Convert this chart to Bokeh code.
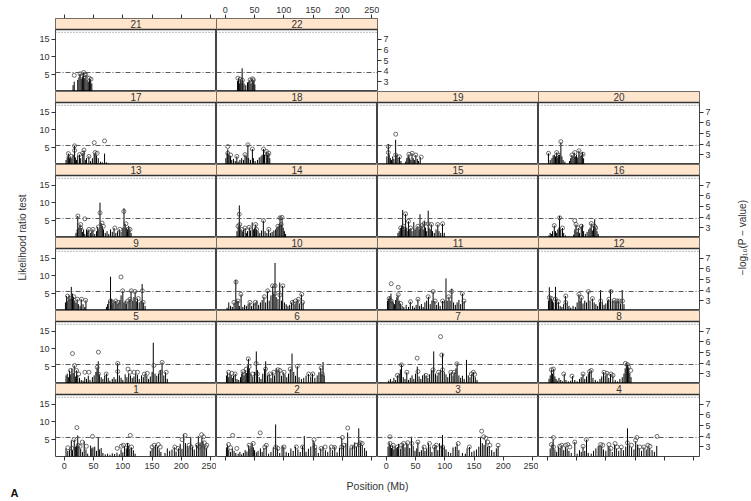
from math import pi
from bokeh.plotting import figure
from bokeh.models import Range1d, LinearAxis, FixedTicker, Span, BoxAnnotation, Label
from bokeh.layouts import row, column
from bokeh.embed import file_html
from bokeh.resources import INLINE

# ---------------- data: (position Mb, likelihood ratio test) ----------------
spikes_1 = [(3,2.5),(6,1.8),(9,2.2),(12,4.8),(14,2.0),(17,5.0),(19,3.0),(21,3.3),(23,6.2),(25,3.0),(28,2.4),(31,1.5),(34,4.5),(37,2.2),(40,1.0),(45,3.3),(47,2.5),(49,2.8),(52,3.0),(55,1.8),(58,5.5),(60,2.2),(63,2.6),(66,1.2),(70,0.8),(74,1.0),(78,0.7),(82,1.1),(86,0.9),(90,1.3),(94,0.8),(97,2.2),(100,1.4),(103,3.2),(106,2.5),(108,4.0),(110,3.3),(112,2.4),(115,2.8),(118,2.0),(121,1.0),(147,1.8),(150,2.5),(153,2.8),(156,3.5),(159,2.9),(162,2.2),(165,1.5),(172,1.2),(176,2.5),(180,1.8),(184,2.2),(188,2.8),(191,1.6),(195,2.5),(198,3.8),(201,2.4),(204,6.5),(207,4.0),(210,3.2),(213,2.6),(216,5.8),(219,3.0),(222,2.2),(226,3.5),(229,6.0),(232,4.2),(235,5.6),(237,4.5),(240,3.2),(243,2.5)]
circles_1 = [(6,2.7),(13,2.5),(16.6,5.0),(21.5,8.4),(23.6,3.4),(27,3.1),(30.7,4.3),(37.7,3.1),(48.2,5.9),(90.4,2.5),(97.4,3.1),(100.9,3.4),(108,3.4),(112.8,6.2),(115,2.9),(150,2.9),(153.6,3.4),(160.6,3.6),(164,2.9),(188.7,2.9),(194.3,2.5),(201.3,5.0),(206.3,6.2),(213.3,3.4),(216.8,2.9),(227.3,3.4),(230.8,2.9),(234.4,6.4),(237.9,5.8),(239.3,4.1),(241.4,2.9),(243.5,3.4)]

spikes_2 = [(2,2.8),(4,3.6),(6,2.2),(9,1.5),(12,2.5),(15,1.8),(18,1.2),(22,1.0),(25,1.5),(28,0.8),(31,1.2),(34,2.0),(37,1.6),(40,3.4),(42,2.5),(44,3.2),(46,4.0),(48,2.8),(50,2.0),(53,1.4),(56,1.8),(60,2.5),(63,1.5),(66,2.6),(70,3.2),(74,1.0),(78,1.5),(82,2.8),(86,9.3),(89,2.5),(93,1.2),(97,3.3),(100,3.0),(104,1.5),(108,1.2),(112,2.5),(116,1.8),(120,3.0),(124,2.2),(128,1.5),(132,3.2),(135,6.0),(138,1.5),(142,2.4),(146,3.0),(150,4.8),(152,4.2),(155,2.6),(159,1.2),(163,2.5),(167,3.0),(171,2.0),(175,1.5),(179,2.8),(183,2.0),(187,3.0),(191,1.4),(195,2.6),(199,5.5),(202,3.3),(206,4.0),(209,7.0),(213,2.5),(217,3.2),(221,4.2),(224,3.0),(228,8.2),(231,4.0),(234,3.5),(238,2.6),(241,1.8)]
circles_2 = [(5.6,3.6),(9.1,2.7),(12.6,6.2),(19.7,2.5),(40.7,3.4),(47.7,3.9),(59.7,6.9),(67.4,2.9),(70.2,3.4),(86.3,2.9),(89.9,2.5),(100.4,2.9),(121.4,2.9),(132,2.9),(151.6,5.0),(153,2.9),(163.6,2.5),(170.6,2.9),(181.1,2.9),(186.7,2.8),(198.7,2.9),(200.1,5.6),(202.2,3.4),(209.2,8.3),(216.2,2.9),(223.2,3.4),(228.9,3.6),(230.3,4.1),(233.8,3.9)]

spikes_3 = [(3,3.0),(5,4.2),(7,3.5),(9,2.6),(11,3.4),(13,2.2),(15,3.0),(17,2.5),(19,2.9),(21,3.8),(24,2.4),(27,3.4),(29,3.9),(32,2.8),(35,4.1),(37,3.5),(40,2.6),(43,5.8),(46,3.2),(49,1.8),(52,2.5),(54,4.3),(57,1.5),(60,2.0),(63,3.0),(66,1.8),(69,2.5),(72,4.0),(75,3.0),(78,1.5),(82,2.9),(85,3.4),(88,2.0),(91,4.0),(94,3.2),(96,6.3),(99,3.0),(102,2.2),(106,1.5),(110,1.2),(114,2.8),(118,3.0),(121,3.9),(124,2.0),(130,1.2),(135,1.0),(138,2.5),(142,2.9),(146,1.5),(150,1.8),(154,2.2),(158,3.0),(161,5.8),(164,4.0),(167,3.5),(170,4.8),(173,3.0),(176,3.2),(180,2.0),(184,1.5),(188,2.5),(191,3.2)]
circles_3 = [(6.3,5.8),(6.3,3.9),(11.9,3.4),(19,2.9),(26,3.4),(29.5,3.9),(36.5,4.1),(43.5,3.9),(54,4.3),(64.6,2.9),(73.7,3.9),(82.1,2.9),(85.6,3.4),(96.2,2.9),(122.9,3.9),(141.8,2.9),(162.9,7.4),(166.4,5.8),(169.9,5.4),(173.4,4.3),(176.9,3.4),(191,3.4)]

spikes_4 = [(5,2.5),(8,3.6),(10,5.0),(13,2.2),(16,1.5),(19,3.0),(22,2.6),(25,3.4),(28,2.0),(31,3.0),(34,2.5),(37,1.8),(41,1.2),(47,4.3),(51,1.0),(55,2.0),(58,1.5),(61,3.0),(64,1.8),(67,5.0),(70,1.2),(75,1.0),(79,1.8),(83,2.5),(87,3.2),(90,3.4),(93,3.0),(96,2.2),(100,1.8),(104,3.2),(107,2.5),(111,1.5),(115,3.6),(118,2.4),(122,1.8),(126,2.6),(130,2.0),(134,3.0),(137,8.2),(140,3.4),(144,2.8),(148,2.2),(151,4.5),(154,3.6),(157,2.5),(161,1.8),(165,2.8),(169,2.2),(172,3.0),(175,2.6),(179,2.0),(183,1.5),(187,3.2)]
circles_4 = [(7,3.6),(10.5,5.6),(10.5,2.9),(21.1,3.1),(24.6,3.4),(31.6,3.4),(35.1,3.6),(38.6,2.9),(47,4.3),(61.1,3.1),(66.7,5.0),(91.3,3.6),(94.8,3.4),(105.3,3.6),(108.8,2.5),(115.8,3.9),(119.3,2.9),(126.4,2.9),(136.9,4.1),(143.9,3.4),(150.9,4.8),(153,5.6),(158,2.9),(165,2.9),(172,3.4),(175.5,3.1),(187.4,5.9)]

spikes_5 = [(3,2.5),(5,3.0),(7,2.0),(9,3.9),(11,2.8),(13,4.5),(15,3.2),(17,5.3),(19,2.2),(21,3.9),(23,2.5),(26,1.8),(29,1.2),(32,1.0),(35,2.0),(38,1.5),(41,2.4),(44,1.2),(48,2.0),(51,2.5),(54,3.5),(56,4.8),(58,6.5),(60,2.8),(63,2.0),(66,1.5),(69,2.4),(72,3.0),(75,1.8),(78,1.0),(82,1.5),(85,2.0),(88,1.4),(91,6.0),(94,2.5),(97,1.8),(100,1.2),(104,2.8),(107,2.0),(110,3.0),(113,2.5),(116,1.8),(119,2.2),(122,3.0),(125,2.6),(128,1.5),(132,2.5),(135,2.0),(138,3.0),(141,2.4),(144,1.5),(147,2.2),(150,3.5),(152,11.8),(155,3.0),(158,2.4),(161,3.0),(164,4.0),(167,6.2),(170,2.5),(173,3.4),(176,1.5)]
circles_5 = [(14,8.7),(17.6,5.3),(10.5,3.9),(21,3.9),(24.6,2.9),(35.1,3.4),(42.1,3.4),(58.3,9.1),(56.2,4.8),(58.3,2.9),(71.6,2.9),(91.3,5.9),(91.3,3.6),(108.8,4.3),(112.3,3.4),(119.3,3.4),(125,3.4),(136.9,2.9),(141.8,3.1),(153,5.3),(165,3.4),(167.1,6.2),(174.1,3.4)]

spikes_6 = [(2,2.5),(4,3.4),(6,2.0),(8,3.0),(10,2.6),(12,1.8),(14,2.4),(17,2.9),(20,1.5),(23,1.2),(26,2.0),(28,3.0),(30,3.6),(32,2.5),(34,4.0),(36,3.2),(38,5.0),(39.5,7.2),(41,4.5),(44,3.0),(47,2.2),(50,3.5),(53,9.3),(55,4.0),(58,2.0),(61,1.5),(64,3.0),(67,4.3),(69,6.5),(72,2.5),(75,3.0),(78,1.8),(81,3.4),(84,2.5),(87,4.5),(90,4.1),(93,3.6),(96,2.4),(99,3.4),(102,2.8),(105,2.0),(108,3.0),(111,4.3),(114,8.7),(117,3.5),(120,2.4),(123,5.1),(126,2.0),(130,1.5),(134,1.8),(138,2.4),(142,2.9),(146,2.2),(149,3.0),(153,1.8),(157,2.5),(160,3.4),(163,4.6),(165,3.0),(167,6.3),(169,2.5)]
circles_6 = [(5.6,3.4),(11.2,3.1),(16.8,2.9),(30.2,3.6),(35.8,4.3),(39.3,7.2),(40.7,5.0),(46.3,2.9),(52.7,5.9),(54.8,2.9),(68.8,4.3),(75.8,2.9),(82.8,3.4),(89.9,4.1),(93.4,3.9),(100.4,3.4),(110.9,4.3),(122.9,5.1),(142.5,2.9),(149.5,2.9),(163.6,4.6),(165.7,2.9)]

spikes_7 = [(4,1.0),(7,1.5),(10,0.8),(13,1.8),(16,1.2),(19,2.5),(22,3.0),(24,4.2),(26,5.5),(29,2.0),(32,1.5),(35,3.4),(38,1.2),(41,1.8),(44,2.5),(47,1.5),(50,3.0),(53,5.0),(56,2.2),(59,1.5),(62,2.5),(65,3.0),(68,2.5),(71,1.8),(74,2.8),(77,4.0),(80,4.1),(81,9.3),(84,3.0),(87,2.5),(90,3.4),(93,4.0),(96,8.7),(99,3.5),(102,2.8),(105,2.0),(108,3.0),(111,3.4),(114,2.5),(116,3.4),(119,4.5),(121,6.0),(124,2.5),(127,1.8),(130,2.4),(133,1.5),(137,6.9),(140,2.5),(143,2.0),(146,2.9),(149,3.4),(152,2.0),(155,1.2)]
circles_7 = [(19,2.5),(26,5.5),(35.1,3.4),(52.7,7.4),(54.1,3.6),(68.1,2.5),(80,4.1),(89.2,3.4),(92.7,13.5),(94.8,8.3),(96.2,4.1),(110.2,3.4),(115.8,3.4),(120.7,5.8),(145.3,2.9),(148.8,3.4),(150.9,2.8)]

spikes_8 = [(3,1.5),(5,2.5),(7,4.1),(9,3.0),(11,4.3),(13,2.2),(15,1.5),(17,1.0),(20,1.8),(23,1.2),(26,0.8),(29,2.9),(32,1.2),(36,0.8),(40,1.0),(43,2.3),(47,1.2),(51,0.8),(55,1.5),(58,2.0),(61,2.9),(64,1.5),(67,2.2),(70,3.0),(72,3.6),(75,3.9),(78,1.8),(82,1.2),(86,0.8),(90,1.5),(93,2.2),(96,3.4),(99,2.5),(102,3.1),(105,1.8),(108,2.9),(112,2.5),(116,1.2),(120,0.8),(124,1.5),(128,2.0),(131,3.0),(133,4.5),(135,6.0),(137,5.6),(139,4.8),(141,3.2),(143,2.0)]
circles_8 = [(7,4.1),(10.5,4.3),(28.1,2.9),(42.1,2.3),(61.1,2.9),(72.3,3.6),(75.1,3.9),(96.9,3.4),(101.8,3.1),(108.8,2.9),(112.3,2.5),(133.4,5.9),(136.9,5.6),(139,4.8),(142.5,3.9)]

spikes_9 = [(2,2.5),(4,4.3),(6,3.0),(8,4.5),(10,3.6),(12,6.9),(14,5.0),(16,4.1),(18,3.0),(20,2.4),(22,3.4),(24,2.0),(27,1.5),(29,3.4),(32,2.0),(35,1.2),(37,3.1),(72,1.2),(74,2.0),(76,3.0),(79,9.8),(81,3.5),(83,2.4),(85,3.0),(88,2.9),(90,2.0),(92,2.5),(95,3.2),(97,4.5),(100,5.8),(102,2.5),(104,3.0),(106,2.2),(109,2.9),(112,3.4),(114,5.8),(117,3.0),(119,4.0),(121,5.6),(123,2.8),(125,3.6),(128,2.5),(131,3.0),(133,7.7),(135,2.5),(138,1.5)]
circles_9 = [(5.6,4.3),(9.1,3.6),(16.1,4.1),(22.5,3.4),(29.5,3.4),(36.5,3.1),(79.3,2.9),(87.8,2.9),(91.3,2.5),(96.9,9.7),(99.7,5.8),(108.8,2.9),(112.3,3.4),(114.4,5.8),(120.7,5.6),(126.4,3.6),(133.4,5.8),(134.8,2.5)]

spikes_10 = [(3,1.0),(6,2.5),(9,1.5),(12,1.2),(15,2.5),(18,8.9),(20,3.0),(22,2.9),(24,1.5),(27,4.8),(30,1.2),(33,1.8),(36,1.5),(39,2.0),(42,2.5),(45,1.5),(48,2.2),(51,2.5),(54,3.0),(57,1.8),(60,2.5),(63,3.2),(66,4.1),(69,2.5),(72,5.8),(75,3.0),(78,4.5),(81,7.2),(83,5.0),(85,13.7),(87,4.0),(90,3.5),(93,8.1),(96,3.0),(98,7.2),(101,2.5),(104,2.0),(107,1.5),(110,1.8),(113,2.5),(116,3.2),(119,2.0),(121,2.9),(124,3.4),(127,2.2),(130,4.8),(133,2.5)]
circles_10 = [(18.3,8.3),(14.7,2.5),(21.8,2.9),(26.7,4.8),(42.1,2.5),(51.2,2.5),(66.7,4.1),(72.3,5.8),(80.7,7.2),(84.9,7.2),(84.9,5.0),(93.4,4.6),(98.3,7.2),(114.4,2.5),(120,2.9),(125,3.4),(130.6,4.8),(132,2.5)]

spikes_11 = [(2,3.0),(4,3.6),(6,4.2),(8,5.0),(10,3.0),(12,2.5),(14,2.0),(16,3.2),(18,4.0),(20,4.7),(22,3.0),(24,2.2),(27,1.5),(30,1.2),(34,1.8),(38,1.2),(41,2.7),(45,1.5),(48,1.0),(51,1.8),(54,3.4),(57,1.5),(60,2.0),(63,1.2),(66,2.5),(69,3.0),(72,4.1),(75,2.0),(78,3.0),(80,5.6),(83,2.9),(86,1.8),(89,2.5),(92,1.5),(96,2.9),(99,3.0),(102,9.3),(104,3.0),(107,4.1),(109,3.0),(112,6.4),(115,2.5),(118,1.8),(121,2.5),(124,3.2),(127,2.0),(130,5.0),(133,2.9)]
circles_11 = [(8.4,7.8),(4.9,3.6),(8.4,2.9),(20.4,6.8),(20.4,4.7),(24.6,2.2),(41.4,2.7),(54.1,3.4),(71.6,4.1),(80,5.6),(83.5,2.9),(96.2,2.9),(106.7,4.1),(111.6,5.6),(129.9,5.0),(132.7,2.9)]

spikes_12 = [(2,3.0),(3.5,6.8),(5,3.9),(7,3.6),(9,3.0),(11,2.5),(14,6.9),(16,3.4),(19,2.7),(22,1.5),(25,1.2),(28,2.0),(31,4.3),(34,2.5),(37,1.5),(40,1.0),(44,1.5),(48,1.2),(51,2.5),(54,4.8),(56,3.0),(58,3.9),(61,2.2),(64,3.0),(67,2.5),(70,5.6),(73,3.0),(77,3.6),(80,2.5),(83,2.0),(86,1.5),(89,2.4),(91,6.0),(94,2.5),(97,1.8),(100,2.2),(103,3.0),(105,3.4),(108,6.0),(111,3.0),(114,3.1),(117,2.5),(119,2.9),(122,3.0),(125,2.2),(128,6.0),(131,2.0)]
circles_12 = [(3.5,3.9),(7,3.6),(14,3.4),(19,2.7),(31.6,4.3),(31.6,2.5),(54.1,4.8),(58.3,3.9),(70.2,5.6),(77.2,3.6),(91.3,2.9),(108.8,5.6),(105.3,3.4),(114.4,3.1),(119.3,2.9),(122.9,2.9),(128.5,2.9)]

spikes_13 = [(20,1.5),(22,2.5),(23,6.3),(25,3.0),(27,3.9),(29,2.9),(31,1.8),(33,2.5),(35,1.2),(38,2.5),(40,2.0),(42,2.5),(45,1.5),(47,2.0),(49,2.5),(52,1.2),(55,2.0),(57,3.2),(59,2.5),(61,10.1),(63,4.3),(65,3.4),(67,2.5),(70,1.5),(73,2.0),(76,1.2),(79,2.5),(82,1.8),(85,2.9),(88,1.5),(91,2.0),(94,2.5),(97,1.8),(100,3.0),(102,8.5),(104,4.1),(106,3.0),(108,2.5),(110,3.5),(112,2.5),(114,1.5)]
circles_13 = [(23.2,6.3),(28.1,3.9),(28.1,2.9),(35.1,5.5),(42.1,2.5),(49.1,2.5),(58.3,3.2),(61.1,7.2),(64.6,4.3),(66.7,3.4),(86.3,2.9),(94.8,2.5),(101.8,7.6),(105.3,4.1),(108.8,2.5),(112.3,2.5)]

spikes_14 = [(20,2.0),(22,3.4),(24,9.3),(25,3.9),(27,2.5),(29,1.8),(31,2.4),(34,2.9),(36,1.5),(38,2.0),(41,3.1),(43,2.2),(46,4.5),(48,2.5),(50,3.0),(52,3.9),(53.5,2.5),(56,2.0),(59,1.5),(62,2.2),(65,5.0),(68,2.0),(71,1.5),(74,2.5),(77,1.5),(80,1.8),(83,2.2),(86,2.5),(88,3.0),(90,3.4),(92,4.0),(93.5,6.2),(95.5,3.9),(97,5.9),(99,3.0),(101,2.0),(103,1.2)]
circles_14 = [(23.9,6.8),(21.8,3.4),(24.6,3.9),(28.1,2.5),(33.7,2.9),(40.7,3.1),(51.9,3.9),(53.4,2.5),(65.3,5.0),(74.4,2.5),(89.9,3.4),(93.4,5.8),(96.9,5.9),(95.5,3.9)]

spikes_15 = [(20,1.5),(22,2.0),(24,2.9),(26,3.5),(28,8.0),(30,3.4),(32,2.5),(33,6.9),(35,3.0),(37,2.0),(38,4.8),(40,2.5),(42,2.9),(44,2.0),(47,4.6),(49,2.5),(51,3.0),(54,3.4),(56,2.5),(57.6,6.8),(59,3.0),(61,3.6),(63,2.5),(65,5.0),(67,3.0),(69,2.0),(71.6,7.8),(73,3.0),(75,2.5),(77,3.9),(79,2.0),(82,1.5),(85,2.5),(88,3.9),(90,2.0),(93,1.5),(96,4.1),(99,1.5)]
circles_15 = [(33,6.9),(24.6,2.9),(29.5,3.4),(37.9,4.8),(41.4,2.9),(54.1,3.4),(61.1,3.6),(64.6,4.1),(71.6,4.1),(77.2,3.9),(87.8,3.9),(96.2,4.1)]

spikes_16 = [(3,0.8),(5,1.5),(7,1.2),(9,2.0),(12,3.6),(14,2.0),(16,1.5),(18,2.5),(20,3.0),(21,6.3),(23,2.5),(26,2.9),(28,1.5),(31,0.8),(45,1.0),(47,2.5),(49,3.9),(51,1.8),(53,2.9),(55,1.5),(58,3.4),(60,4.0),(62,2.0),(65,1.2),(68,1.8),(71,2.5),(73,3.0),(75,4.2),(77,2.2),(79,3.5),(81,5.4),(83,2.9),(85,2.0),(87,1.2)]
circles_16 = [(11.9,3.6),(21.1,5.8),(26,2.9),(47,5.0),(49.1,3.9),(52.7,2.9),(58.3,3.4),(75.1,4.2),(80.7,3.4),(82.8,2.9)]

spikes_17 = [(3,1.5),(5,2.5),(7,3.3),(9,2.0),(11,2.5),(13,1.8),(15,3.0),(17.6,5.6),(19,2.2),(21,1.5),(23,2.7),(26,3.0),(28,2.0),(31.6,3.4),(33.7,4.2),(36,1.5),(38,2.0),(42,2.5),(45,1.2),(48,2.0),(51,3.2),(52.7,3.6),(55,2.8),(58,2.0),(62,1.0),(65,0.8),(68.8,3.3),(72,0.8),(75,0.5)]
circles_17 = [(7,3.3),(11.9,2.5),(17.6,5.5),(17.6,4.2),(26,3.0),(31.6,3.4),(33.7,4.3),(42.1,2.5),(51.2,6.4),(52.7,3.6),(56.2,3.4),(68.8,6.9)]

spikes_18 = [(1,2.0),(3,3.5),(4.2,4.5),(6,3.0),(8,2.8),(9,2.5),(11,1.5),(14,1.8),(17,1.2),(19.7,2.5),(22,1.0),(25,1.5),(28,2.0),(31,1.5),(33.7,3.0),(36,2.5),(38.6,5.8),(40,2.0),(43,1.5),(46.3,4.6),(48,2.0),(51,1.2),(55,1.5),(58,2.2),(61,2.5),(63,3.0),(65.3,4.6),(67,3.0),(70,3.9),(72,2.9),(74.4,3.4),(76,2.0)]
circles_18 = [(4.2,5.3),(4.2,3.4),(9.1,2.9),(19.7,2.5),(33.7,3.0),(38.6,5.8),(46.3,4.6),(65.3,4.6),(70.2,3.9),(72.3,2.9),(74.4,3.4)]

spikes_19 = [(1,2.5),(3.5,6.0),(5,3.0),(7,2.0),(9,1.5),(11,2.5),(13,1.8),(16,7.2),(18,3.0),(20,2.0),(22.5,2.4),(25,1.2),(33,1.0),(35,2.0),(37,2.5),(38.6,3.1),(40,2.0),(42,1.5),(44,3.4),(46,2.0),(48,1.5),(50.5,2.9),(53,1.8),(55,1.2),(58,2.3)]
circles_19 = [(3.5,5.3),(3.5,3.6),(16.1,8.8),(16.1,2.9),(22.5,2.4),(38.6,3.1),(44.2,3.4),(50.5,2.9),(59.7,2.3)]

spikes_20 = [(2,3.4),(5,1.5),(8,2.0),(10,2.8),(12,3.0),(14,2.5),(16,3.6),(18,2.2),(19,2.9),(21,3.0),(23.2,6.5),(25,2.5),(27,1.5),(30,1.0),(38,1.2),(40,2.0),(42,2.9),(44,2.5),(46,3.6),(48,2.5),(50,3.0),(52,2.2),(54,4.1),(56,2.5),(58,2.9),(60,3.8),(62,2.0)]
circles_20 = [(2.1,3.4),(16.1,3.6),(19,2.9),(23.2,6.7),(42.1,2.9),(47,3.6),(54.1,4.1),(58.3,2.9),(61.1,3.1)]

spikes_21 = [(15,2.0),(17,3.0),(23,3.5),(25,4.2),(27,5.2),(29,3.8),(31,4.5),(33,5.6),(35,4.0),(37,4.9),(39,3.5),(41,3.0),(43,4.0),(45,3.7),(47,2.5)]
circles_21 = [(17,4.8),(27,5.2),(29,4.6),(33,5.6),(35,5.0),(37,4.9),(42.6,4.0),(45.5,3.7)]

spikes_22 = [(21,3.2),(22.5,4.0),(24,2.5),(25.5,3.7),(27,2.8),(28.8,6.8),(30,3.4),(32,2.5),(35,2.0),(38,2.8),(40,3.0),(42,3.5),(44,2.5),(46,3.8),(47.5,3.0),(49,3.5),(50.5,2.2)]
circles_22 = [(21.5,4.0),(25.5,3.7),(29.4,3.4),(42.4,3.5),(46.4,3.8),(48,3.5)]

panel_rows = [[21, 22], [17, 18, 19, 20], [13, 14, 15, 16], [9, 10, 11, 12], [5, 6, 7, 8], [1, 2, 3, 4]]
x_ticks = [0, 50, 100, 150, 200, 250]
lrt_ticks = [5, 10, 15]
pval_ticks = [3, 4, 5, 6, 7]
line_dotted = 17.0      # upper significance line (LRT)
line_dashdot = 5.6      # suggestive line (LRT)

SPIKES = {k: globals()["spikes_%d" % k] for k in range(1, 23)}
CIRCLES = {k: globals()["circles_%d" % k] for k in range(1, 23)}

# ---------------- layout constants ----------------
FW, FH, SH = 161, 73, 11
LB, RB, TB, BB = 21, 26, 18, 17
LEFT_W, RIGHT_W, BOTTOM_H = 34, 24, 27
X_LO, X_HI = -15, 260
Y_LO, Y_TOP = 0.2, 17.8
Y_HI = Y_TOP + SH * (Y_TOP - Y_LO) / float(FH - SH)
FONT = "Liberation Sans"
TXT = "#333333"
STRIP = "#ffe5cc"


def style_axis(ax, show_labels=True):
    ax.axis_line_color = None
    ax.major_tick_line_color = TXT
    ax.major_tick_out = 4
    ax.major_tick_in = 0
    ax.minor_tick_line_color = None
    ax.major_label_text_font = FONT
    ax.major_label_text_font_size = "9px"
    ax.major_label_text_color = TXT
    ax.major_label_standoff = 2
    if not show_labels:
        ax.major_label_text_alpha = 0.0


def make_panel(chrom, r, c, last):
    w = FW + (LB if c == 0 else 0) + (RB if last else 0)
    h = FH + (TB if r == 0 else 0) + (BB if r == 5 else 0)
    p = figure(width=w, height=h, x_range=Range1d(X_LO, X_HI), y_range=Range1d(Y_LO, Y_HI),
               x_axis_location=None, y_axis_location=None,
               output_backend="svg", toolbar_location=None,
               min_border=0,
               min_border_left=LB if c == 0 else 0,
               min_border_right=RB if last else 0,
               min_border_top=TB if r == 0 else 0,
               min_border_bottom=BB if r == 5 else 0,
               background_fill_color="white", border_fill_color="white",
               outline_line_color="#444444", outline_line_width=1)
    p.grid.grid_line_color = None
    p.extra_y_ranges = {"pval": Range1d(Y_LO / 3.0 + 2, Y_HI / 3.0 + 2)}

    if c == 0:
        ax = LinearAxis(ticker=FixedTicker(ticks=lrt_ticks))
        style_axis(ax)
        p.add_layout(ax, "left")
    if last:
        ax = LinearAxis(ticker=FixedTicker(ticks=pval_ticks), y_range_name="pval")
        style_axis(ax)
        p.add_layout(ax, "right")
    if r == 0:
        ax = LinearAxis(ticker=FixedTicker(ticks=x_ticks))
        style_axis(ax, show_labels=(c == 1))
        p.add_layout(ax, "above")
    if r == 5:
        ax = LinearAxis(ticker=FixedTicker(ticks=x_ticks))
        style_axis(ax, show_labels=(c in (0, 2)))
        p.add_layout(ax, "below")

    sp = SPIKES[chrom]
    xs = [a for a, b in sp]
    ys = [b for a, b in sp]
    p.segment(x0=xs, y0=[0] * len(xs), x1=xs, y1=ys, line_color="black", line_width=1)
    ci = CIRCLES[chrom]
    p.scatter(x=[a for a, b in ci], y=[b for a, b in ci], marker="circle", size=4,
              fill_color=None, line_color="#333333", line_width=0.7)

    p.add_layout(Span(location=line_dotted, dimension="width", line_color="#777777",
                      line_width=1, line_dash="1 2"))
    p.add_layout(Span(location=line_dashdot, dimension="width", line_color="#555555",
                      line_width=1, line_dash="5 2 1 2"))
    p.add_layout(BoxAnnotation(bottom=Y_TOP, fill_color=STRIP, fill_alpha=1.0, line_color=None))
    p.add_layout(Span(location=Y_TOP, dimension="width", line_color="#333333", line_width=1.5))
    p.add_layout(Label(x=(X_LO + X_HI) / 2.0, y=(Y_TOP + Y_HI) / 2.0, text=str(chrom),
                       text_align="center", text_baseline="middle", text_font=FONT,
                       text_font_size="10px", text_color=TXT))
    return p


rows = []
for r, chroms in enumerate(panel_rows):
    figs = [make_panel(ch, r, c, c == len(chroms) - 1) for c, ch in enumerate(chroms)]
    rows.append(row(*figs))
grid = column(*rows)

GH = FH * 6 + TB + BB
MID = GH - (TB + 3 * FH)


def text_fig(w, h):
    f = figure(width=w, height=h, x_range=Range1d(0, w), y_range=Range1d(0, h),
               x_axis_location=None, y_axis_location=None, output_backend="svg",
               toolbar_location=None, min_border=0, outline_line_color=None,
               background_fill_color="white", border_fill_color="white")
    f.grid.grid_line_color = None
    return f


left_fig = text_fig(LEFT_W, GH)
left_fig.add_layout(Label(x=22, y=MID, text="Likelihood ratio test", angle=pi / 2,
                          text_align="center", text_baseline="middle", text_font=FONT,
                          text_font_size="10px", text_color=TXT))
right_fig = text_fig(RIGHT_W, GH)
right_fig.add_layout(Label(x=17, y=MID, text="\u2212log\u2081\u2080(P \u2212 value)",
                           angle=pi / 2, text_align="center", text_baseline="middle",
                           text_font=FONT, text_font_size="10px", text_color=TXT))

bottom_fig = text_fig(LEFT_W + LB + 4 * FW + RB + RIGHT_W, BOTTOM_H)
bottom_fig.add_layout(Label(x=LEFT_W + LB + 2 * FW, y=BOTTOM_H - 12, text="Position (Mb)",
                            text_align="center", text_baseline="middle", text_font=FONT,
                            text_font_size="10.5px", text_color=TXT))
bottom_fig.add_layout(Label(x=10, y=2, text="A", text_align="left", text_baseline="bottom",
                            text_font=FONT, text_font_size="11px", text_font_style="bold",
                            text_color="#111111"))

layout = column(row(left_fig, grid, right_fig), bottom_fig)

open("out.html", "w").write(file_html(layout, INLINE))
